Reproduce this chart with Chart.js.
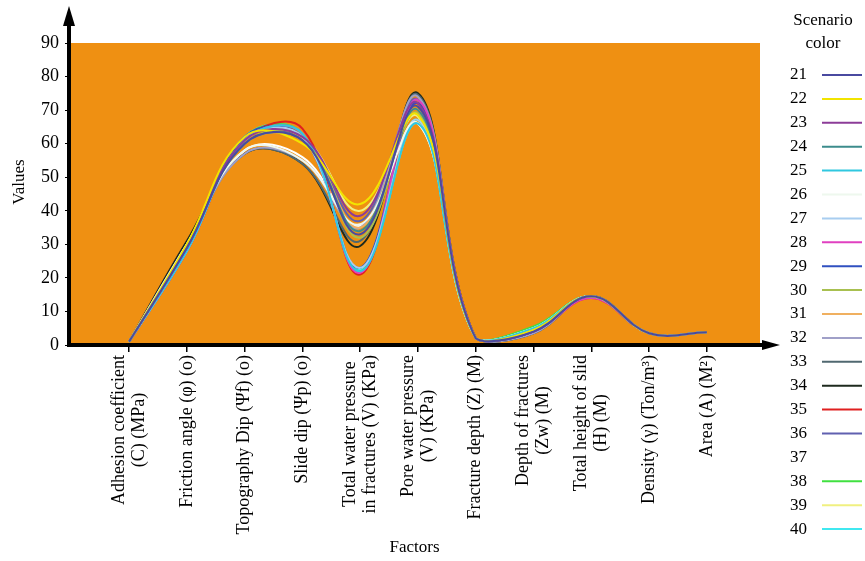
<!DOCTYPE html>
<html>
<head>
<meta charset="utf-8">
<script src="https://cdn.jsdelivr.net/npm/chart.js@4.4.1/dist/chart.umd.min.js"></script>
<style>
  html, body { margin: 0; padding: 0; background: #fff; }
  #wrap { width: 865px; height: 561px; position: relative; }
</style>
</head>
<body>
<div id="wrap"><canvas id="factorChart" width="865" height="561"></canvas></div>
<script>
// factors on the x axis
const factorLabels = [
    ["Adhesion coefficient", "(C) (MPa)"],
    ["Friction angle (\u03c6) (o)"],
    ["Topography Dip (\u03a8f) (o)"],
    ["Slide dip (\u03a8p) (o)"],
    ["Total water pressure", "in fractures (V) (KPa)"],
    ["Pore water pressure", "(V) (KPa)"],
    ["Fracture depth (Z) (M)"],
    ["Depth of fractures", "(Zw) (M)"],
    ["Total height of slid", "(H) (M)"],
    ["Density (\u03b3) (Ton/m\u00b3)"],
    ["Area (A) (M\u00b2)"]
];

const scenarioNames = ["21", "22", "23", "24", "25", "26", "27", "28", "29", "30",
                       "31", "32", "33", "34", "35", "36", "37", "38", "39", "40"];

const scenarioColors = ["#4a4aa0", "#f2e400", "#8c3c98", "#3c8c8c", "#30c8e0",
                        "#eef8ee", "#a8cdf0", "#e040c0", "#3050c0", "#a8c050",
                        "#f0b060", "#a0a0c8", "#506870", "#1e2a1e", "#e02020",
                        "#6060b0", "#ffffff", "#40e040", "#f0f080", "#40e8f0"];

const yTicks = [0, 10, 20, 30, 40, 50, 60, 70, 80, 90];

// one row per scenario, one value per factor
const s21 = [1, 29, 60, 61, 33, 71, 2, 4, 14.5, 3.5, 3.8];
const s22 = [1, 30, 62, 60, 42, 68.5, 2, 4.5, 14.5, 3.5, 3.8];
const s23 = [1, 29, 61, 62, 38.5, 72, 2, 4, 14.5, 3.5, 3.8];
const s24 = [1, 29, 60, 61, 34, 70, 2, 4, 14.5, 3.5, 3.8];
const s25 = [1, 28, 61, 63, 22, 66, 2, 5, 14.5, 3.5, 3.8];
const s26 = [1, 30, 58, 55, 36, 66, 2, 5, 14.5, 3.5, 3.8];
const s27 = [1, 28, 61, 62, 23, 67, 2, 4.5, 14.5, 3.5, 3.8];
const s28 = [1, 28, 61, 63, 21.5, 73, 2, 4, 14, 3.5, 3.8];
const s29 = [1, 28, 62, 62, 23, 72, 2, 4, 14.5, 3.5, 3.8];
const s30 = [1, 30, 60, 62, 32, 69, 2, 4.5, 14.5, 3.5, 3.8];
const s31 = [1, 29, 60, 61, 35, 70, 2, 4, 14.5, 3.5, 3.8];
const s32 = [1, 30, 57, 55, 35, 74, 2, 3.5, 14.5, 3.5, 3.8];
const s33 = [1, 30, 57, 54, 31, 74.5, 2, 3.5, 14.5, 3.5, 3.8];
const s34 = [1, 31, 57, 54, 29.5, 75, 2, 3.5, 14.5, 3.5, 3.8];
const s35 = [1, 28, 61, 64.5, 21, 72, 2, 4, 14, 3.5, 3.8];
const s36 = [1, 29, 62, 61, 37, 73, 2, 4, 14.5, 3.5, 3.8];
const s37 = [1, 30, 58, 56, 35.5, 66, 2, 5, 14.5, 3.5, 3.8];
const s38 = [1, 29, 62, 63, 22, 67, 2, 5.5, 14.5, 3.5, 3.8];
const s39 = [1, 29, 62, 62, 40, 68, 2, 4.5, 14.5, 3.5, 3.8];
const s40 = [1, 28, 62, 63, 22.5, 66, 2, 5, 14.5, 3.5, 3.8];

const scenarioValues = [s21, s22, s23, s24, s25, s26, s27, s28, s29, s30,
                        s31, s32, s33, s34, s35, s36, s37, s38, s39, s40];

const serif = "'Liberation Serif', 'DejaVu Serif', serif";

// orange plot area, arrow axes, rotated factor labels and the scenario legend
const decorPlugin = {
    id: "decor",
    beforeDatasetsDraw(chart) {
        const { ctx, chartArea } = chart;
        ctx.save();
        ctx.fillStyle = "#ef9012";
        ctx.fillRect(chartArea.left, chartArea.top,
                     chartArea.right - chartArea.left, chartArea.bottom - chartArea.top);
        ctx.restore();
    },
    afterDraw(chart) {
        const { ctx, chartArea } = chart;
        const xScale = chart.scales.x;
        const x0 = chartArea.left;
        const y0 = chartArea.bottom;
        ctx.save();
        ctx.strokeStyle = "#000";
        ctx.fillStyle = "#000";
        ctx.lineWidth = 4;
        ctx.beginPath();
        ctx.moveTo(x0, y0 + 2);
        ctx.lineTo(x0, 20);
        ctx.moveTo(x0 - 2, y0);
        ctx.lineTo(768, y0);
        ctx.stroke();
        ctx.beginPath();
        ctx.moveTo(x0, 6);
        ctx.lineTo(x0 - 6, 26);
        ctx.lineTo(x0 + 6, 26);
        ctx.closePath();
        ctx.fill();
        ctx.beginPath();
        ctx.moveTo(780, y0);
        ctx.lineTo(762, y0 - 5);
        ctx.lineTo(762, y0 + 5);
        ctx.closePath();
        ctx.fill();

        // factor labels, read bottom to top, lines centred
        ctx.font = "18px " + serif;
        ctx.textAlign = "center";
        ctx.textBaseline = "middle";
        factorLabels.forEach((lines, i) => {
            const px = xScale.getPixelForValue(i);
            const maxW = Math.max(...lines.map((t) => ctx.measureText(t).width));
            ctx.save();
            ctx.translate(px, y0 + 10);
            ctx.rotate(-Math.PI / 2);
            lines.forEach((t, j) => {
                ctx.fillText(t, -maxW / 2, (j - (lines.length - 1) / 2) * 20);
            });
            ctx.restore();
        });

        // y title
        ctx.save();
        ctx.font = "17px " + serif;
        ctx.translate(20, 182);
        ctx.rotate(-Math.PI / 2);
        ctx.fillText("Values", 0, 0);
        ctx.restore();

        // legend
        ctx.font = "17px " + serif;
        ctx.textAlign = "center";
        ctx.fillText("Scenario", 823, 21);
        ctx.fillText("color", 823, 44);
        ctx.textAlign = "left";
        chart.data.datasets.forEach((ds, i) => {
            const y = 75 + i * 23.9;
            ctx.fillStyle = "#000";
            ctx.fillText(ds.label, 790, y);
            ctx.strokeStyle = ds.borderColor;
            ctx.lineWidth = 2;
            ctx.beginPath();
            ctx.moveTo(822, y);
            ctx.lineTo(862, y);
            ctx.stroke();
        });
        ctx.restore();
    }
};

const ctx = document.getElementById("factorChart").getContext("2d");

new Chart(ctx, {
    type: "line",
    data: {
        datasets: scenarioNames.map((name, i) => ({
            label: name,
            data: scenarioValues[i].map((v, k) => ({ x: k, y: v })),
            borderColor: scenarioColors[i],
            borderWidth: 2,
            pointRadius: 0,
            tension: 0.4,
            fill: false
        }))
    },
    options: {
        responsive: false,
        animation: false,
        layout: { padding: { left: 0, top: 43, right: 105, bottom: 0 } },
        plugins: {
            legend: { display: false },
            tooltip: { enabled: false }
        },
        scales: {
            x: {
                type: "linear",
                min: -1.04,
                max: 10.92,
                afterBuildTicks: (scale) => {
                    scale.ticks = factorLabels.map((_, i) => ({ value: i }));
                },
                afterFit: (scale) => { scale.height = 216; },
                border: { display: false },
                grid: { drawOnChartArea: false, drawTicks: true, tickLength: 7, color: "#000", lineWidth: 1.5 },
                ticks: { display: false },
                title: {
                    display: true,
                    text: "Factors",
                    color: "#000",
                    font: { family: serif, size: 17 },
                    padding: { top: 0, bottom: 3 }
                }
            },
            y: {
                min: 0,
                max: 90,
                afterBuildTicks: (scale) => {
                    scale.ticks = yTicks.map((v) => ({ value: v }));
                },
                afterFit: (scale) => { scale.width = 69; },
                border: { display: false },
                grid: { drawOnChartArea: false, drawTicks: true, tickLength: 4, color: "#000" },
                ticks: {
                    padding: 6,
                    color: "#000",
                    font: { family: serif, size: 18 }
                }
            }
        }
    },
    plugins: [decorPlugin]
});
</script>
</body>
</html>
